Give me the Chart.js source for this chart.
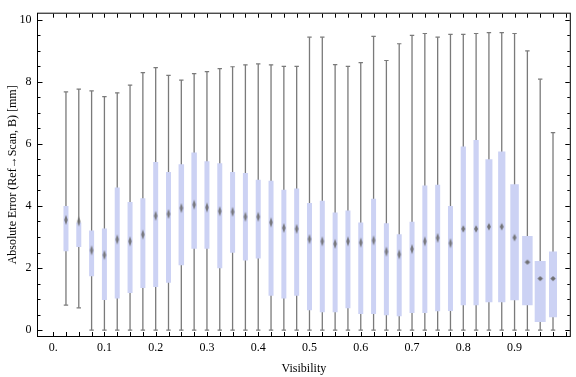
<!DOCTYPE html>
<html>
<head>
<meta charset="utf-8">
<script src="https://cdn.jsdelivr.net/npm/chart.js@4"></script>
<style>
  html, body { margin: 0; padding: 0; background: #fff; }
</style>
</head>
<body>
<canvas id="chart" width="576" height="377"></canvas>
<script>
// ─── DATA ───────────────────────────────────────────────
const visibility = [0.025, 0.05, 0.075, 0.1, 0.125, 0.15, 0.175, 0.2, 0.225, 0.25,
                    0.275, 0.3, 0.325, 0.35, 0.375, 0.4, 0.425, 0.45, 0.475, 0.5,
                    0.525, 0.55, 0.575, 0.6, 0.625, 0.65, 0.675, 0.7, 0.725, 0.75,
                    0.775, 0.8, 0.825, 0.85, 0.875, 0.9, 0.925, 0.95, 0.975];
const whiskerLow = [0.81, 0.72, 0, 0, 0, 0, 0, 0, 0, 0,
                    0, 0, 0, 0, 0, 0, 0, 0, 0, 0,
                    0, 0, 0, 0, 0, 0, 0, 0, 0, 0,
                    0, 0, 0, 0, 0, 0, 0, 0, 0];
const quartileLow = [2.54, 2.68, 1.74, 0.97, 1.02, 1.20, 1.36, 1.39, 1.53, 2.09,
                     2.62, 2.62, 1.99, 2.49, 2.24, 2.31, 1.11, 1.02, 1.11, 0.64,
                     0.58, 0.58, 0.71, 0.52, 0.52, 0.48, 0.45, 0.55, 0.55, 0.61,
                     0.62, 0.80, 0.80, 0.90, 0.90, 0.96, 0.80, 0.26, 0.42];
const medians = [3.55, 3.50, 2.57, 2.42, 2.92, 2.86, 3.08, 3.68, 3.74, 3.93,
                 4.04, 3.95, 3.83, 3.81, 3.65, 3.65, 3.47, 3.29, 3.26, 2.93,
                 2.86, 2.78, 2.86, 2.82, 2.89, 2.53, 2.44, 2.61, 2.86, 2.97,
                 2.80, 3.26, 3.26, 3.33, 3.33, 2.98, 2.19, 1.66, 1.66];
const quartileHigh = [4.00, 3.47, 3.21, 3.27, 4.59, 4.13, 4.25, 5.41, 5.09, 5.34,
                      5.72, 5.44, 5.37, 5.09, 5.06, 4.84, 4.81, 4.52, 4.56, 4.09,
                      4.17, 3.79, 3.85, 3.47, 4.23, 3.44, 3.09, 3.49, 4.66, 4.68,
                      4.00, 5.91, 6.12, 5.50, 5.75, 4.70, 3.03, 2.23, 2.53];
const whiskerHigh = [7.67, 7.76, 7.70, 7.52, 7.64, 7.89, 8.29, 8.45, 8.20, 8.05,
                     8.26, 8.32, 8.42, 8.48, 8.54, 8.57, 8.54, 8.49, 8.49, 9.43,
                     9.43, 8.55, 8.49, 8.61, 9.46, 8.68, 9.22, 9.49, 9.55, 9.43,
                     9.52, 9.52, 9.55, 9.58, 9.58, 9.55, 8.99, 8.08, 6.36];

const xTickValues = [0, 0.1, 0.2, 0.3, 0.4, 0.5, 0.6, 0.7, 0.8, 0.9];
const xTickLabels = ['0.', '0.1', '0.2', '0.3', '0.4', '0.5', '0.6', '0.7', '0.8', '0.9'];
const yTickValues = [0, 2, 4, 6, 8, 10];

// ─── STYLE ──────────────────────────────────────────────
const FONT = { family: "'Liberation Serif', 'Times New Roman', serif", size: 12 };
const BOX_COLOR = '#ccd2f4';
const WHISKER_COLOR = '#7a7a7a';
const boxBaseWidth = 5;
// the right-hand boxes are drawn wider in the original
const boxWidthScale = [1, 1, 1, 1, 1, 1, 1, 1, 1, 1.1,
                       1.1, 1, 1, 1, 1, 1, 1, 1, 1, 1,
                       1, 1, 1, 1, 1, 1, 1, 1, 1, 1,
                       1, 1.05, 1.05, 1.4, 1.45, 1.7, 2.1, 2.2, 1.6];

function diamond(w, h, color) {
    const c = document.createElement('canvas');
    c.width = Math.ceil(w) + 2;
    c.height = Math.ceil(h) + 2;
    const g = c.getContext('2d');
    const cx = c.width / 2, cy = c.height / 2;
    g.fillStyle = color;
    g.beginPath();
    g.moveTo(cx, cy - h / 2);
    g.lineTo(cx + w / 2, cy);
    g.lineTo(cx, cy + h / 2);
    g.lineTo(cx - w / 2, cy);
    g.closePath();
    g.fill();
    return c;
}
const tallMarker = diamond(3.5, 10, 'rgba(105,105,105,0.85)');
const midMarker = diamond(4, 7.5, 'rgba(105,105,105,0.9)');
const smallMarker = diamond(5.5, 5, 'rgba(105,105,105,0.95)');

// ─── PLUGINS ────────────────────────────────────────────
const boxWidthPlugin = {
    id: 'boxWidths',
    afterDatasetUpdate(chart, args) {
        if (chart.data.datasets[args.index].label !== 'boxes') return;
        args.meta.data.forEach((bar, i) => { bar.width = boxBaseWidth * boxWidthScale[i]; });
    }
};

// Mathematica style frame with inward ticks on all four sides
const framePlugin = {
    id: 'frame',
    afterDatasetsDraw(chart) {
        const { ctx, chartArea: a, scales: { x, y } } = chart;
        ctx.save();
        ctx.strokeStyle = '#000';
        ctx.lineWidth = 1;
        ctx.strokeRect(a.left + 0.5, a.top + 0.5, a.right - a.left - 1, a.bottom - a.top - 1);
        ctx.beginPath();
        for (let k = 0; k <= 40; k++) {
            const px = Math.round(x.getPixelForValue(k * 0.025)) + 0.5;
            ctx.moveTo(px, a.bottom - 1); ctx.lineTo(px, a.bottom - 5);
            ctx.moveTo(px, a.top + 1); ctx.lineTo(px, a.top + 5);
        }
        for (let k = 0; k <= 20; k++) {
            const py = Math.round(y.getPixelForValue(k * 0.5)) + 0.5;
            const len = k % 4 === 0 ? 4.5 : 2.5;
            ctx.moveTo(a.left + 1, py); ctx.lineTo(a.left + 1 + len, py);
            ctx.moveTo(a.right - 1, py); ctx.lineTo(a.right - 1 - len, py);
        }
        ctx.stroke();
        ctx.restore();
    }
};

// ─── CHART ──────────────────────────────────────────────
const ctx = document.getElementById('chart').getContext('2d');
new Chart(ctx, {
    type: 'bar',
    data: {
        datasets: [
            {
                label: 'whiskers',
                data: visibility.map((v, i) => ({ x: v, y: [whiskerLow[i], whiskerHigh[i]] })),
                backgroundColor: WHISKER_COLOR,
                barThickness: 1.3,
                grouped: false,
                inflateAmount: 0,
                order: 4
            },
            {
                label: 'caps',
                type: 'scatter',
                data: visibility.map((v, i) => ({ x: v, y: whiskerLow[i] }))
                    .concat(visibility.map((v, i) => ({ x: v, y: whiskerHigh[i] }))),
                pointStyle: 'line',
                pointRadius: 2.2,
                borderWidth: 1.2,
                borderColor: WHISKER_COLOR,
                order: 3
            },
            {
                label: 'boxes',
                data: visibility.map((v, i) => ({ x: v, y: [quartileLow[i], quartileHigh[i]] })),
                backgroundColor: BOX_COLOR,
                barThickness: boxBaseWidth,
                grouped: false,
                inflateAmount: 0,
                order: 2
            },
            {
                label: 'medians',
                type: 'scatter',
                data: visibility.map((v, i) => ({ x: v, y: medians[i] })),
                pointStyle: (c) => c.dataIndex >= 36 ? smallMarker : (c.dataIndex >= 31 ? midMarker : tallMarker),
                pointRadius: 4,
                order: 1
            }
        ]
    },
    options: {
        responsive: false,
        animation: false,
        layout: { padding: { top: 4, right: 0, bottom: 0, left: 0 } },
        plugins: { legend: { display: false }, tooltip: { enabled: false } },
        scales: {
            x: {
                type: 'linear',
                min: -0.0315,
                max: 1.0097,
                offset: false,
                grid: { display: false, drawTicks: false },
                border: { display: false },
                afterBuildTicks: (s) => { s.ticks = xTickValues.map(v => ({ value: v })); },
                afterFit: (s) => { s.height = 40; },
                ticks: {
                    callback: (v, i) => xTickLabels[i],
                    autoSkip: false, maxRotation: 0,
                    font: FONT, color: '#000', padding: 4
                },
                title: { display: true, text: 'Visibility', font: FONT, color: '#000', padding: { top: 0, bottom: 0.5 } }
            },
            y: {
                type: 'linear',
                min: -0.219,
                max: 10.219,
                grid: { display: false, drawTicks: false },
                border: { display: false },
                afterBuildTicks: (s) => { s.ticks = yTickValues.map(v => ({ value: v })); },
                afterFit: (s) => { s.width = 37; },
                ticks: {
                    callback: (v) => String(v),
                    font: FONT, color: '#000', padding: 5.5
                },
                title: { display: true, text: 'Absolute Error (Ref\u2192Scan, B) [mm]', font: FONT, color: '#000', padding: { top: 6, bottom: 0 } }
            }
        }
    },
    plugins: [boxWidthPlugin, framePlugin]
});
</script>
</body>
</html>
